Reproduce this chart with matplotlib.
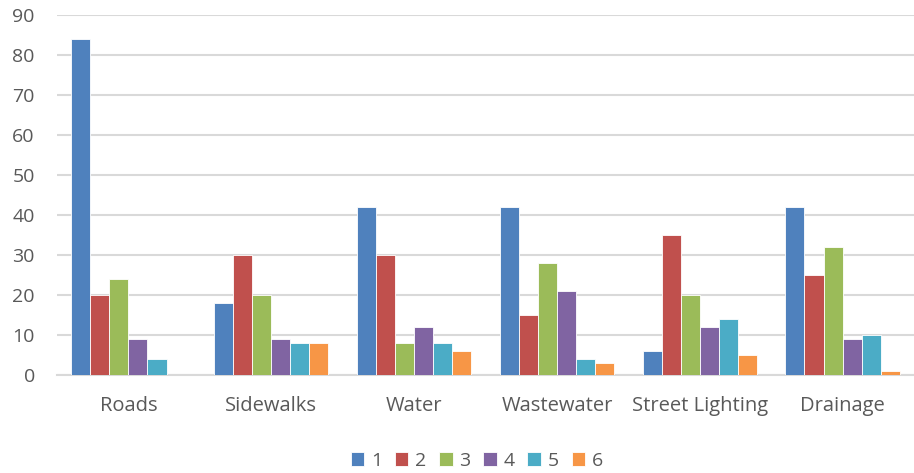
import numpy as np
import matplotlib.pyplot as plt

categories = ["Roads", "Sidewalks", "Water", "Wastewater", "Street Lighting", "Drainage"]
series_names = ["1", "2", "3", "4", "5", "6"]
s1 = [84, 18, 42, 42, 6, 42]
s2 = [20, 30, 30, 15, 35, 25]
s3 = [24, 20, 8, 28, 20, 32]
s4 = [9, 9, 12, 21, 12, 9]
s5 = [4, 8, 8, 4, 14, 10]
s6 = [0, 8, 6, 3, 5, 1]
yticks = [0, 10, 20, 30, 40, 50, 60, 70, 80, 90]

colors = ["#4F81BD", "#C0504D", "#9BBB59", "#8064A2", "#4BACC6", "#F79646"]
plt.rcParams['font.family'] = ['Open Sans', 'DejaVu Sans']

fig = plt.figure(figsize=(9.14, 4.73), dpi=100)
ax = fig.add_axes([57 / 914, 98 / 473, 857 / 914, 360 / 473])

x = np.arange(len(categories))
width = 0.8 / 6
for i, vals in enumerate([s1, s2, s3, s4, s5, s6]):
    ax.bar(x - 0.4 + width * (i + 0.5), vals, width, color=colors[i],
           edgecolor="white", linewidth=0.6, label=series_names[i], zorder=3)

ax.set_xlim(-0.5, len(categories) - 0.5)
ax.set_ylim(0, 90)
ax.set_yticks(yticks)
ax.set_xticks(x)
ax.set_xticklabels(categories)
ax.grid(axis="y", color="#D9D9D9", linewidth=1.5, zorder=0)
for side in ["top", "right", "left"]:
    ax.spines[side].set_visible(False)
ax.spines["bottom"].set_color("#D9D9D9")
ax.spines["bottom"].set_linewidth(1.5)
ax.tick_params(axis="y", length=0, labelsize=14, colors="#595959", pad=16)
ax.tick_params(axis="x", length=0, labelsize=14.5, colors="#595959", pad=15)

ax.legend(loc="upper center", bbox_to_anchor=(0.49, -0.165), ncol=6, frameon=False,
          fontsize=14, labelcolor="#595959", handlelength=0.7, handleheight=0.7,
          columnspacing=0.65, handletextpad=0.35)

fig.savefig("out.png", dpi=100)
